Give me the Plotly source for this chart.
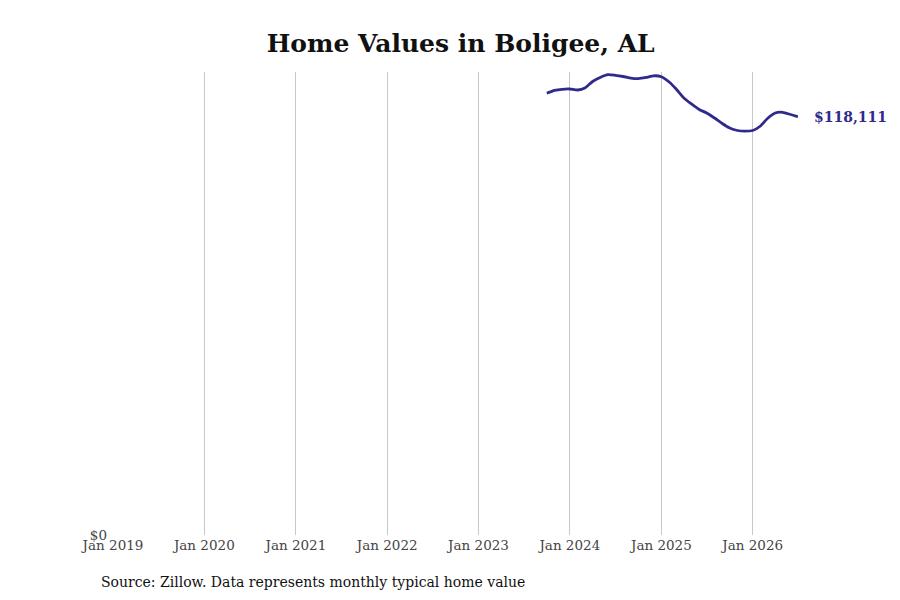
import pandas as pd
import plotly.graph_objects as go

# Monthly typical home value
dates = pd.date_range('2023-10-01', '2026-07-01', freq='MS')
values = [
    124740, 125530, 125870, 125950, 125670, 126230, 128070, 129200, 129990,
    129820, 129480, 129000, 128860, 129200, 129680, 129400, 127930, 125950,
    123410, 121720, 120160, 119170, 117760, 116210, 114940, 114230, 114030,
    114230, 115500, 117620, 119170, 119370, 118750, 118111,
]
tick_dates = pd.date_range('2019-01-01', '2026-01-01', freq='YS')
tick_labels = [d.strftime('Jan %Y') for d in tick_dates]

line_color = '#2f2a8c'
font_family = 'DejaVu Serif'

fig = go.Figure()
fig.add_trace(go.Scatter(
    x=dates, y=values, mode='lines',
    line=dict(color=line_color, width=2.8, shape='spline', smoothing=0.6),
    hoverinfo='skip', showlegend=False,
))

# End label
fig.add_annotation(
    x=dates[-1], y=values[-1], text=f'<b>${values[-1]:,}</b>',
    xanchor='left', yanchor='middle', xshift=14, showarrow=False,
    font=dict(family=font_family, size=14, color=line_color),
)

# Source note
fig.add_annotation(
    x=-0.02, y=-0.08, xref='paper', yref='paper',
    text='Source: Zillow. Data represents monthly typical home value',
    xanchor='left', yanchor='top', showarrow=False,
    font=dict(family=font_family, size=14, color='#111111'),
)

# the page body adds an 8px offset, margins below account for it
fig.update_layout(
    width=900, height=600,
    margin=dict(l=105, r=110, t=64, b=73),
    paper_bgcolor='white', plot_bgcolor='white',
    font=dict(family=font_family, size=13.5, color='#444444'),
    title=dict(
        text='<b>Home Values in Boligee, AL</b>',
        x=0.503, xanchor='center', y=0.942, yanchor='middle',
        font=dict(family=font_family, size=25, color='#111111'),
    ),
)
fig.update_xaxes(
    range=[pd.Timestamp('2019-01-01'), dates[-1]],
    tickvals=tick_dates, ticktext=tick_labels,
    showgrid=True, gridcolor='#c8c8c8', gridwidth=1,
    showline=False, zeroline=False, ticks='',
)
fig.update_yaxes(
    range=[0, 130750],
    tickvals=[0], ticktext=['$0'],
    showgrid=False, zeroline=False, showline=False, ticks='',
    ticklabelstandoff=5,
)

fig.write_html('out.html')
